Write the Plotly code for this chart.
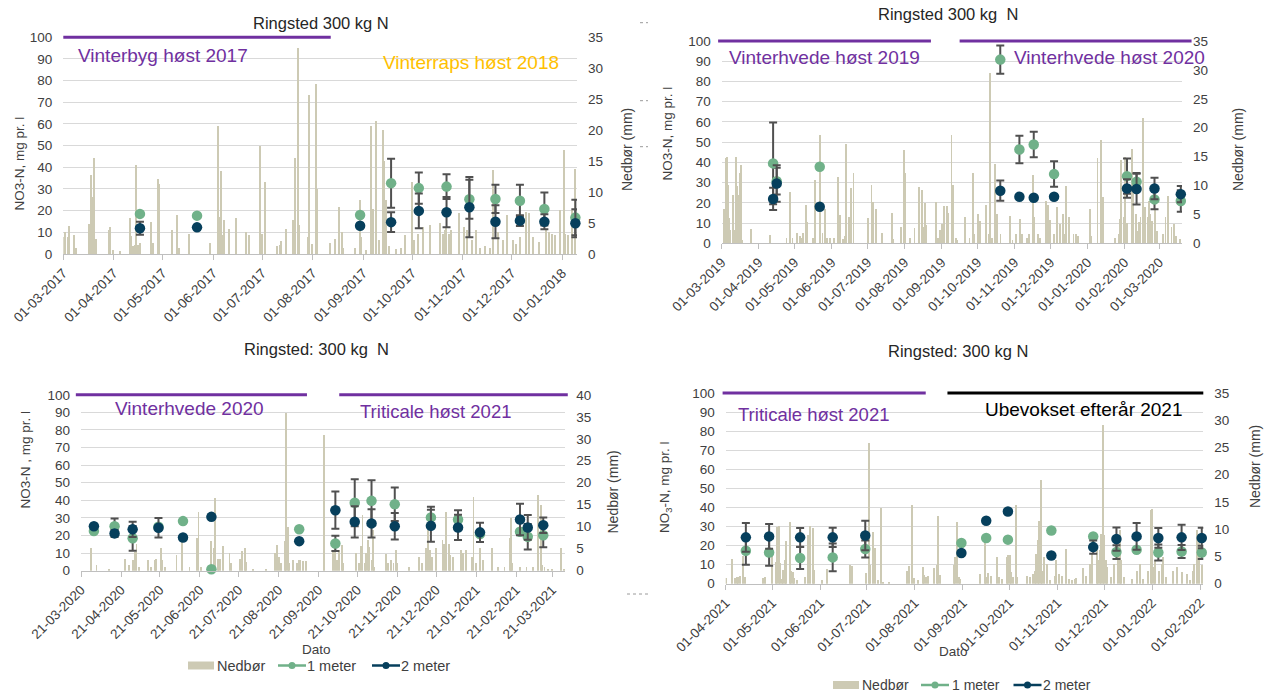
import pandas as pd
import plotly.graph_objects as go

W, H = 1268, 693

FONT = "Liberation Sans, Arial, sans-serif"
GREEN = "#70b189"
NAVY = "#063f5c"
RAIN = "#cdcab4"
PURPLE = "#7030a0"
GOLD = "#ffc000"
ERR = "#505050"
GRID = "#d9d9d9"
TICK = "#404040"

# ---------------- Panel 1: Ringsted 300 kg N, 2017/18 ----------------
p1_rain_dates = [
    "2017-03-01", "2017-03-02", "2017-03-04", "2017-03-05", "2017-03-08", "2017-03-09",
    "2017-03-17", "2017-03-18", "2017-03-19", "2017-03-20", "2017-03-21", "2017-03-29",
    "2017-03-30", "2017-04-01", "2017-04-05", "2017-04-11", "2017-04-12", "2017-04-13",
    "2017-04-14", "2017-04-15", "2017-04-16", "2017-04-17", "2017-04-24", "2017-04-25",
    "2017-04-28", "2017-04-29", "2017-05-07", "2017-05-10", "2017-05-11", "2017-05-17",
    "2017-05-30", "2017-06-04", "2017-06-05", "2017-06-06", "2017-06-07", "2017-06-08",
    "2017-06-11", "2017-06-15", "2017-06-21", "2017-06-23", "2017-06-30", "2017-07-01",
    "2017-07-03", "2017-07-10", "2017-07-12", "2017-07-13", "2017-07-16", "2017-07-20",
    "2017-07-21", "2017-07-23", "2017-07-24", "2017-07-29", "2017-07-30", "2017-08-01",
    "2017-08-03", "2017-08-04", "2017-08-12", "2017-08-15", "2017-08-17", "2017-08-19",
    "2017-08-20", "2017-08-27", "2017-08-30", "2017-08-31", "2017-09-03", "2017-09-06",
    "2017-09-07", "2017-09-09", "2017-09-11", "2017-09-13", "2017-09-14", "2017-09-15",
    "2017-09-17", "2017-09-21", "2017-09-24", "2017-09-27", "2017-10-01", "2017-10-02",
    "2017-10-05", "2017-10-08", "2017-10-12", "2017-10-18", "2017-10-20", "2017-10-21",
    "2017-10-22", "2017-10-24", "2017-10-25", "2017-10-30", "2017-11-02", "2017-11-04",
    "2017-11-07", "2017-11-09", "2017-11-12", "2017-11-15", "2017-11-18", "2017-11-20",
    "2017-11-23", "2017-11-26", "2017-11-28", "2017-12-02", "2017-12-04", "2017-12-06",
    "2017-12-10", "2017-12-12", "2017-12-14", "2017-12-18", "2017-12-22", "2017-12-24",
    "2017-12-26", "2017-12-28", "2017-12-31", "2018-01-02", "2018-01-03", "2018-01-05",
    "2018-01-07", "2018-01-09",
]
p1_rain_mm = [
    2.7, 3.5, 2.7, 4.5, 3.0, 1.0,
    4.8, 12.7, 9.2, 15.5, 2.4, 3.8,
    4.3, 0.6, 0.5, 5.8, 2.9, 1.2,
    1.4, 14.4, 1.4, 1.7, 5.1, 1.8,
    12.0, 11.3, 3.9, 6.2, 0.9, 3.2,
    1.7, 20.6, 6.0, 13.3, 3.0, 5.5,
    4.0, 5.7, 3.5, 3.0, 17.4, 3.2,
    11.6, 1.2, 1.4, 2.0, 4.0, 5.5,
    15.5, 33.3, 4.7, 2.7, 25.6, 1.5,
    27.4, 10.4, 1.8, 2.4, 7.5, 3.5,
    1.0, 1.0, 8.6, 2.7, 0.6, 20.7,
    7.3, 21.4, 2.2, 19.9, 15.0, 8.6,
    1.3, 0.8, 1.0, 3.0, 11.6, 2.2,
    3.2, 4.3, 4.6, 5.0, 3.2, 3.8,
    4.3, 3.2, 3.8, 6.5, 4.3, 3.8,
    2.2, 3.8, 1.0, 1.3, 1.0, 13.5,
    3.5, 2.2, 6.2, 2.2, 1.6, 2.7,
    6.7, 6.5, 2.7, 1.9, 3.8, 3.5,
    3.2, 3.0, 7.0, 16.7, 3.2, 3.0,
    7.0, 13.7,
]
p1_dates = ["2017-04-17", "2017-05-22", "2017-08-30", "2017-09-18", "2017-10-05",
            "2017-10-22", "2017-11-05", "2017-11-21", "2017-12-06", "2017-12-21", "2018-01-09"]
p1_m1 = [18.5, 17.7, 18.0, 32.7, 30.4, 31.1, 25.3, 25.4, 24.6, 20.8, 16.8]
p1_m1_err = [None, None, None, 11.3, 7.2, 5.7, 9.0, 6.5, 7.3, 7.6, 8.2]
p1_m2 = [11.9, 12.3, 13.0, 14.7, 19.9, 19.3, 21.6, 14.9, 15.4, 14.9, 14.2]
p1_m2_err = [3.0, None, None, 4.6, 8.0, 7.0, 13.9, 7.6, 2.5, 3.5, 6.5]

# ---------------- Panel 2: Ringsted 300 kg N, 2019/20 ----------------
p2_rain_dates = [
    "2019-03-03", "2019-03-04", "2019-03-05", "2019-03-06", "2019-03-07", "2019-03-08",
    "2019-03-10", "2019-03-11", "2019-03-13", "2019-03-14", "2019-03-15", "2019-03-16",
    "2019-03-17", "2019-03-18", "2019-03-25", "2019-04-10", "2019-04-24", "2019-04-27",
    "2019-04-29", "2019-05-03", "2019-05-05", "2019-05-07", "2019-05-08", "2019-05-10",
    "2019-05-11", "2019-05-16", "2019-05-18", "2019-05-22", "2019-05-24", "2019-05-26",
    "2019-05-28", "2019-05-30", "2019-06-03", "2019-06-06", "2019-06-08", "2019-06-10",
    "2019-06-12", "2019-06-13", "2019-06-15", "2019-06-17", "2019-06-19", "2019-07-01",
    "2019-07-04", "2019-07-05", "2019-07-08", "2019-07-13", "2019-07-21", "2019-07-22",
    "2019-07-29", "2019-07-31", "2019-08-01", "2019-08-05", "2019-08-09", "2019-08-13",
    "2019-08-15", "2019-08-16", "2019-08-18", "2019-08-19", "2019-08-27", "2019-08-29",
    "2019-08-30", "2019-09-01", "2019-09-03", "2019-09-05", "2019-09-06", "2019-09-09",
    "2019-09-10", "2019-09-13", "2019-09-14", "2019-09-20", "2019-09-24", "2019-09-27",
    "2019-09-28", "2019-10-01", "2019-10-03", "2019-10-08", "2019-10-10", "2019-10-11",
    "2019-10-13", "2019-10-15", "2019-10-17", "2019-10-20", "2019-10-28", "2019-10-30",
    "2019-11-02", "2019-11-05", "2019-11-07", "2019-11-11", "2019-11-13", "2019-11-16",
    "2019-11-17", "2019-11-20", "2019-11-22", "2019-11-27", "2019-11-29", "2019-11-30",
    "2019-12-04", "2019-12-06", "2019-12-09", "2019-12-11", "2019-12-13", "2019-12-14",
    "2019-12-16", "2019-12-20", "2019-12-22", "2019-12-24", "2020-01-03", "2020-01-04",
    "2020-01-09", "2020-01-12", "2020-01-14", "2020-01-24", "2020-01-27", "2020-01-28",
    "2020-01-29", "2020-01-31", "2020-02-01", "2020-02-03", "2020-02-07", "2020-02-08",
    "2020-02-10", "2020-02-11", "2020-02-13", "2020-02-14", "2020-02-16", "2020-02-18",
    "2020-02-20", "2020-02-21", "2020-02-22", "2020-02-24", "2020-02-26", "2020-02-28",
    "2020-03-04", "2020-03-06", "2020-03-08", "2020-03-11", "2020-03-13", "2020-03-15",
    "2020-03-18",
]
p2_rain_mm = [
    6.0, 14.7, 14.9, 10.1, 4.3, 2.3,
    8.3, 2.3, 14.9, 9.9, 8.3, 12.1,
    13.5, 0.6, 2.4, 1.4, 1.0, 8.8,
    1.0, 1.7, 1.2, 1.0, 1.7, 6.6,
    3.7, 0.9, 10.9, 18.7, 1.7, 6.0,
    0.9, 1.0, 1.0, 11.5, 4.9, 0.7,
    1.2, 17.2, 4.6, 9.5, 12.1, 4.3,
    10.1, 7.2, 6.0, 1.7, 5.2, 0.7,
    2.9, 16.1, 12.1, 1.0, 2.6, 9.7,
    9.2, 2.9, 7.0, 3.2, 7.2, 1.0,
    2.3, 3.3, 6.4, 6.4, 5.2, 18.7,
    10.1, 1.0, 0.5, 4.5, 0.9, 12.2,
    1.6, 5.1, 3.9, 6.6, 1.6, 29.5,
    1.0, 13.8, 5.1, 1.6, 4.8, 0.5,
    1.6, 4.2, 1.6, 1.0, 1.6, 11.8,
    4.5, 1.6, 1.0, 7.4, 6.7, 4.0,
    1.6, 6.3, 3.4, 5.1, 1.6, 10.0,
    4.5, 1.6, 1.6, 1.3, 6.0, 1.3,
    14.7, 17.9, 8.0, 1.0, 1.6, 4.2,
    14.4, 4.5, 15.0, 3.5, 16.4, 9.8,
    5.1, 2.2, 3.7, 4.5, 21.6, 6.3,
    4.5, 7.4, 5.1, 3.9, 5.7, 2.2,
    1.6, 4.5, 8.1, 2.8, 3.4, 1.3,
    0.8,
]
p2_dates = ["2019-04-13", "2019-04-16", "2019-05-22", "2019-10-20", "2019-11-05", "2019-11-17",
            "2019-12-04", "2020-02-03", "2020-02-11", "2020-02-26", "2020-03-19"]
p2_m1 = [39.5, 30.7, 37.8, 90.8, 46.4, 48.8, 34.2, 33.2, 30.4, 21.7, 20.9]
p2_m1_err = [20.2, 6.6, None, 7.0, 6.8, 6.3, 6.3, 8.7, 4.4, 4.9, 5.3]
p2_m2 = [21.9, 29.6, 18.1, 26.0, 23.0, 22.5, 23.0, 27.1, 26.8, 27.1, 24.3]
p2_m2_err = [5.5, 9.0, None, 5.0, None, None, None, 4.6, 7.6, 5.3, 4.0]

# ---------------- Panel 3: Ringsted: 300 kg N, 2020/21 ----------------
p3_rain_dates = [
    "2020-03-29", "2020-04-02", "2020-04-12", "2020-04-24", "2020-04-27", "2020-04-30",
    "2020-05-02", "2020-05-03", "2020-05-05", "2020-05-12", "2020-05-14", "2020-05-17",
    "2020-05-18", "2020-05-22", "2020-05-23", "2020-05-25", "2020-06-03", "2020-06-07",
    "2020-06-13", "2020-06-19", "2020-06-20", "2020-06-22", "2020-06-30", "2020-07-02",
    "2020-07-03", "2020-07-05", "2020-07-06", "2020-07-07", "2020-07-09", "2020-07-14",
    "2020-07-15", "2020-07-22", "2020-07-24", "2020-07-26", "2020-07-27", "2020-08-01",
    "2020-08-11", "2020-08-18", "2020-08-20", "2020-08-21", "2020-08-23", "2020-08-26",
    "2020-08-27", "2020-08-28", "2020-08-29", "2020-09-01", "2020-09-04", "2020-09-06",
    "2020-09-07", "2020-09-09", "2020-09-11", "2020-09-25", "2020-10-02", "2020-10-04",
    "2020-10-05", "2020-10-07", "2020-10-09", "2020-10-10", "2020-10-20", "2020-10-22",
    "2020-10-24", "2020-10-25", "2020-10-27", "2020-10-28", "2020-10-29", "2020-10-30",
    "2020-11-01", "2020-11-02", "2020-11-03", "2020-11-12", "2020-11-14", "2020-11-16",
    "2020-11-18", "2020-11-20", "2020-11-21", "2020-11-30", "2020-12-08", "2020-12-10",
    "2020-12-13", "2020-12-15", "2020-12-16", "2020-12-18", "2020-12-21", "2020-12-26",
    "2020-12-27", "2020-12-29", "2020-12-31", "2021-01-01", "2021-01-03", "2021-01-09",
    "2021-01-11", "2021-01-13", "2021-01-18", "2021-01-19", "2021-01-21", "2021-01-24",
    "2021-01-26", "2021-02-02", "2021-02-07", "2021-02-12", "2021-02-16", "2021-02-17",
    "2021-02-18", "2021-02-24", "2021-03-01", "2021-03-06", "2021-03-10", "2021-03-12",
    "2021-03-13", "2021-03-15", "2021-03-18", "2021-03-21", "2021-03-28", "2021-03-30",
]
p3_rain_mm = [
    5.1, 1.3, 0.5, 2.8, 1.3, 2.4,
    4.3, 6.2, 0.9, 2.4, 0.9, 2.4,
    2.6, 5.1, 2.4, 0.8, 3.6, 7.4,
    0.8, 7.4, 13.5, 0.9, 6.9, 5.1,
    16.5, 2.8, 2.6, 2.6, 5.6, 4.1,
    1.7, 2.8, 4.6, 5.1, 2.1, 0.3,
    0.3, 4.0, 5.9, 3.2, 1.7, 6.9,
    36.0, 9.9, 1.7, 2.4, 1.7, 2.4,
    2.4, 2.3, 2.2, 30.8, 4.7, 6.2,
    2.4, 4.7, 5.9, 1.7, 4.0, 1.7,
    5.6, 12.7, 1.7, 4.0, 7.0, 5.5,
    2.4, 9.3, 0.9, 3.8, 1.7, 2.4,
    1.7, 4.7, 1.7, 0.9, 3.2, 1.7,
    5.1, 9.3, 4.7, 3.2, 5.1, 7.0,
    6.2, 13.5, 6.2, 3.6, 3.2, 4.7,
    4.0, 4.7, 3.2, 16.9, 1.7, 5.1,
    2.4, 5.1, 0.8, 0.8, 7.4, 12.0,
    1.7, 0.8, 0.9, 0.8, 17.3, 15.0,
    1.3, 0.9, 0.5, 0.3, 5.1, 0.5,
]
p3_dates = ["2020-03-31", "2020-04-16", "2020-04-30", "2020-05-20", "2020-06-08", "2020-06-30",
            "2020-09-06", "2020-10-04", "2020-10-19", "2020-11-01", "2020-11-19", "2020-12-17",
            "2021-01-07", "2021-01-24", "2021-02-24", "2021-03-02", "2021-03-14"]
p3_m1 = [22.5, 25.3, 18.4, 25.0, 28.2, 0.8, 23.6, 15.5, 38.6, 39.7, 37.8, 30.3, 29.1, 20.8, 22.1, 19.3, 20.2]
p3_m1_err = [None, 4.4, 7.0, None, None, None, None, 4.3, 13.4, 11.7, 9.5, 6.0, 5.3, None, None, 7.2, 6.9]
p3_m2 = [25.3, 21.2, 23.5, 24.4, 18.9, 30.6, 16.8, 34.4, 27.8, 26.9, 25.3, 25.5, 24.6, 21.8, 29.1, 24.6, 25.9]
p3_m2_err = [None, 2.0, 4.3, 5.5, None, None, None, 10.6, 8.9, 8.0, 7.5, 9.1, 7.2, 5.5, 9.0, 7.0, 4.4]

# ---------------- Panel 4: Ringsted: 300 kg N, 2021/22 ----------------
p4_rain_dates = [
    "2021-04-01", "2021-04-05", "2021-04-07", "2021-04-08", "2021-04-09", "2021-04-10",
    "2021-04-12", "2021-04-13", "2021-04-25", "2021-04-26", "2021-05-01", "2021-05-03",
    "2021-05-04", "2021-05-05", "2021-05-06", "2021-05-07", "2021-05-08", "2021-05-09",
    "2021-05-10", "2021-05-12", "2021-05-13", "2021-05-14", "2021-05-15", "2021-05-17",
    "2021-05-22", "2021-05-24", "2021-05-25", "2021-05-27", "2021-05-28", "2021-06-02",
    "2021-06-05", "2021-06-20", "2021-06-21", "2021-06-30", "2021-07-02", "2021-07-03",
    "2021-07-05", "2021-07-06", "2021-07-08", "2021-07-10", "2021-07-11", "2021-07-15",
    "2021-07-27", "2021-07-28", "2021-07-30", "2021-07-31", "2021-08-03", "2021-08-06",
    "2021-08-07", "2021-08-08", "2021-08-09", "2021-08-13", "2021-08-15", "2021-08-16",
    "2021-08-17", "2021-08-26", "2021-08-27", "2021-08-28", "2021-08-29", "2021-08-30",
    "2021-09-12", "2021-09-15", "2021-09-16", "2021-09-17", "2021-09-19", "2021-09-23",
    "2021-09-24", "2021-09-26", "2021-09-29", "2021-09-30", "2021-10-01", "2021-10-02",
    "2021-10-03", "2021-10-05", "2021-10-06", "2021-10-12", "2021-10-14", "2021-10-16",
    "2021-10-17", "2021-10-18", "2021-10-19", "2021-10-20", "2021-10-21", "2021-10-22",
    "2021-10-23", "2021-10-25", "2021-10-27", "2021-10-30", "2021-10-31", "2021-11-02",
    "2021-11-04", "2021-11-06", "2021-11-08", "2021-11-10", "2021-11-12", "2021-11-13",
    "2021-11-17", "2021-11-19", "2021-11-22", "2021-11-23", "2021-11-26", "2021-11-27",
    "2021-11-28", "2021-11-29", "2021-11-30", "2021-12-01", "2021-12-02", "2021-12-03",
    "2021-12-05", "2021-12-07", "2021-12-10", "2021-12-11", "2021-12-12", "2021-12-14",
    "2021-12-19", "2021-12-22", "2021-12-24", "2021-12-26", "2021-12-29", "2021-12-31",
    "2022-01-01", "2022-01-02", "2022-01-03", "2022-01-05", "2022-01-07", "2022-01-08",
    "2022-01-10", "2022-01-14", "2022-01-17", "2022-01-20", "2022-01-23", "2022-01-25",
    "2022-01-27", "2022-01-28", "2022-01-30", "2022-01-31", "2022-02-02",
]
p4_rain_mm = [
    1.0, 4.5, 1.0, 1.2, 1.3, 1.5,
    5.0, 1.3, 1.0, 1.2, 5.9, 3.9,
    10.4, 10.5, 3.8, 0.9, 2.6, 4.4,
    7.8, 11.3, 2.4, 2.2, 1.0, 0.7,
    1.3, 9.0, 10.5, 10.2, 2.5, 0.7,
    2.7, 3.5, 3.3, 1.9, 25.9, 3.5,
    9.4, 6.5, 0.6, 13.9, 0.4, 0.2,
    2.3, 3.3, 14.5, 1.0, 0.7, 3.1,
    1.6, 1.3, 1.5, 2.9, 3.4, 12.5,
    1.6, 3.4, 4.9, 11.3, 1.2, 0.9,
    1.8, 8.6, 1.2, 2.0, 1.5, 4.9,
    1.2, 0.9, 4.9, 5.2, 5.2, 2.1,
    1.2, 14.4, 1.2, 1.5, 1.2, 1.8,
    2.4, 5.5, 8.0, 11.6, 19.0, 2.4,
    4.9, 3.7, 0.7, 1.5, 4.3, 1.8,
    1.5, 6.4, 0.9, 0.7, 0.9, 1.1,
    2.8, 1.5, 3.7, 5.6, 6.4, 4.3,
    6.1, 9.2, 29.1, 8.9, 4.3, 3.1,
    1.2, 3.7, 7.0, 9.8, 4.3, 1.2,
    0.9, 2.4, 3.7, 0.9, 2.4, 13.5,
    13.8, 3.1, 4.3, 2.4, 3.7, 4.9,
    1.2, 2.4, 3.1, 2.1, 1.8, 0.6,
    2.4, 3.7, 9.8, 9.2, 3.4,
]
p4_dates = ["2021-04-14", "2021-04-29", "2021-05-19", "2021-06-09", "2021-06-30", "2021-08-31",
            "2021-09-16", "2021-09-30", "2021-10-28", "2021-11-24", "2021-12-09", "2021-12-22",
            "2022-01-05", "2022-01-20", "2022-02-02"]
p4_m1 = [17.3, 16.4, 13.5, 13.8, 18.2, 21.3, 24.0, 23.1, 27.9, 24.8, 16.6, 17.8, 16.4, 16.9, 16.4]
p4_m1_err = [7.3, 7.0, 5.8, 7.3, 4.4, None, None, None, None, None, 3.6, None, 4.2, 3.4, 3.5]
p4_m2 = [24.3, 24.8, 24.3, 24.3, 25.3, 16.1, 33.0, 37.9, 14.8, 19.2, 23.4, 24.8, 24.0, 24.3, 24.0]
p4_m2_err = [7.5, 6.5, 4.9, 5.1, 7.7, None, None, None, None, 3.5, 6.1, 7.0, 5.2, 6.6, 5.4]

# crop periods shown as bars along the top of each panel: (start, end, colour)
p1_periods = [("2017-03-01", "2017-08-12", PURPLE)]
p2_periods = [("2019-02-26", "2019-08-23", PURPLE), ("2019-09-16", "2020-03-28", PURPLE)]
p3_periods = [("2020-03-17", "2020-09-12", PURPLE), ("2020-10-07", "2021-04-02", PURPLE)]
p4_periods = [("2021-03-30", "2021-08-08", PURPLE), ("2021-08-22", "2022-02-03", "#000000")]

legend_labels = ["Nedbør", "1 meter", "2 meter"]


def fx(v):
    return v / W


def fy(v):
    return 1 - v / H


panels = [
    dict(rain_d=p1_rain_dates, rain=p1_rain_mm, d=p1_dates, m1=p1_m1, e1=p1_m1_err, m2=p1_m2, e2=p1_m2_err,
         xr=["2017-03-01", "2018-01-10"], tick0="2017-03-01", xdom=[63.3, 577], ydom=[254, 37.3],
         rmax=35, periods=p1_periods),
    dict(rain_d=p2_rain_dates, rain=p2_rain_mm, d=p2_dates, m1=p2_m1, e1=p2_m1_err, m2=p2_m2, e2=p2_m2_err,
         xr=["2019-03-01", "2020-03-20"], tick0="2019-03-01", xdom=[721.7, 1182], ydom=[243.3, 41],
         rmax=35, periods=p2_periods),
    dict(rain_d=p3_rain_dates, rain=p3_rain_mm, d=p3_dates, m1=p3_m1, e1=p3_m1_err, m2=p3_m2, e2=p3_m2_err,
         xr=["2020-03-21", "2021-03-31"], tick0="2020-03-21", xdom=[81, 565.2], ydom=[570.7, 394.8],
         rmax=40, periods=p3_periods),
    dict(rain_d=p4_rain_dates, rain=p4_rain_mm, d=p4_dates, m1=p4_m1, e1=p4_m1_err, m2=p4_m2, e2=p4_m2_err,
         xr=["2021-04-01", "2022-02-03"], tick0="2021-04-01", xdom=[725.7, 1203.3], ydom=[583.7, 393],
         rmax=35, periods=p4_periods),
]

fig = go.Figure()
layout = {}
shapes = []
annotations = []
DAY_MS = 86400000


def text(x, y, s, size, color, xanchor="center", angle=0):
    annotations.append(dict(x=fx(x), y=fy(y), xref="paper", yref="paper", text=s, showarrow=False,
                            xanchor=xanchor, yanchor="middle", textangle=angle,
                            font=dict(family=FONT, size=size, color=color)))


for i, p in enumerate(panels):
    k = i + 1
    xid = "x" if k == 1 else f"x{k}"
    yb_n = 2 * k - 1          # precipitation axis (base, right side)
    yo_n = 2 * k              # NO3-N axis (overlay, left side)
    yb = "y" if yb_n == 1 else f"y{yb_n}"
    yo = f"y{yo_n}"

    fig.add_trace(go.Bar(x=p["rain_d"], y=p["rain"], xaxis=xid, yaxis=yb,
                         marker=dict(color=RAIN, line=dict(width=0)),
                         width=DAY_MS * 0.7, showlegend=False, hoverinfo="skip"))
    for vals, errs, col in ((p["m1"], p["e1"], GREEN), (p["m2"], p["e2"], NAVY)):
        fig.add_trace(go.Scatter(
            x=p["d"], y=vals, xaxis=xid, yaxis=yo, mode="markers", cliponaxis=False,
            marker=dict(size=10.5, color=col),
            error_y=dict(type="data", array=errs, visible=True, color=ERR, thickness=2, width=4),
            showlegend=False))

    tickfont = dict(family=FONT, size=13.5, color=TICK)
    layout["xaxis" if k == 1 else f"xaxis{k}"] = dict(
        type="date", range=p["xr"], tick0=p["tick0"], dtick="M1", tickformat="%d-%m-%Y",
        tickangle=-45, ticks="outside", ticklen=5, tickcolor="#bfbfbf", showline=True,
        linecolor="#bfbfbf", linewidth=1, showgrid=False, zeroline=False, tickfont=tickfont,
        domain=[fx(p["xdom"][0]), fx(p["xdom"][1])], anchor=yb, automargin=False)
    layout["yaxis" if yb_n == 1 else f"yaxis{yb_n}"] = dict(
        domain=[fy(p["ydom"][0]), fy(p["ydom"][1])], range=[0, p["rmax"]], dtick=5,
        side="right", anchor=xid, showgrid=False, zeroline=False, showline=False,
        tickfont=tickfont, ticklabelstandoff=10, automargin=False)
    layout[f"yaxis{yo_n}"] = dict(
        range=[0, 100], dtick=10, side="left", overlaying=yb, anchor=xid,
        showgrid=True, gridcolor=GRID, gridwidth=1, zeroline=False, showline=False,
        tickfont=tickfont, ticklabelstandoff=10, automargin=False)

    t0 = pd.Timestamp(p["xr"][0])
    span = pd.Timestamp(p["xr"][1]) - t0
    for start, end, col in p["periods"]:
        shapes.append(dict(
            type="line", xref=f"{xid} domain", yref=f"{yb} domain",
            x0=(pd.Timestamp(start) - t0) / span, x1=(pd.Timestamp(end) - t0) / span,
            y0=1, y1=1, line=dict(color=col, width=3)))


def legend_row(y, x_box, x_l1, x_l2, text_x, size):
    # key: precipitation swatch, then 1 m and 2 m line-with-dot symbols
    shapes.append(dict(type="rect", xref="paper", yref="paper", x0=fx(x_box), x1=fx(x_box + 26),
                       y0=fy(y + 4), y1=fy(y - 4), fillcolor=RAIN, line=dict(width=0)))
    for x0, col in ((x_l1, GREEN), (x_l2, NAVY)):
        shapes.append(dict(type="line", xref="paper", yref="paper", x0=fx(x0), x1=fx(x0 + 28),
                           y0=fy(y), y1=fy(y), line=dict(color=col, width=2.5)))
        shapes.append(dict(type="circle", xref="paper", yref="paper", x0=fx(x0 + 10.5), x1=fx(x0 + 17.5),
                           y0=fy(y + 3.5), y1=fy(y - 3.5), fillcolor=col, line=dict(width=0)))
    for tx, lab in zip(text_x, legend_labels):
        text(tx, y, lab, size, TICK, "left")


legend_row(665.5, 188, 278, 372, [214.5, 304.5, 398.5], 14.5)
legend_row(685, 833, 921, 1013.5, [859.5, 949.5, 1040.5], 14)

# small dotted leftovers of the page layout
for x0, x1, y in ((640, 648, 22.7), (640, 648, 100.7), (640, 648, 146.7), (627, 650, 594)):
    shapes.append(dict(type="line", xref="paper", yref="paper", x0=fx(x0), x1=fx(x1), y0=fy(y), y1=fy(y),
                       line=dict(color="#9a9a9a", width=1, dash="dot")))

# panel titles
text(321, 23, "Ringsted 300 kg N", 16.5, "#262626")
text(948, 14, "Ringsted 300 kg  N", 16.5, "#262626")
text(316, 349, "Ringsted: 300 kg  N", 16.5, "#262626")
text(958, 351, "Ringsted: 300 kg N", 16.5, "#262626")

# crop labels
text(76, 56, "Vinterbyg høst 2017", 19, PURPLE, "left")
text(381, 62.5, "Vinterraps høst 2018", 19, GOLD, "left")
text(727, 57.5, "Vinterhvede høst 2019", 19, PURPLE, "left")
text(1011.5, 57.5, "Vinterhvede høst 2020", 19, PURPLE, "left")
text(113, 408.5, "Vinterhvede 2020", 19, PURPLE, "left")
text(358, 411, "Triticale høst 2021", 18.5, PURPLE, "left")
text(736, 414, "Triticale høst 2021", 18.5, PURPLE, "left")
text(983, 409.5, "Ubevokset efterår 2021", 19, "#000000", "left")

# axis titles
text(18.5, 164, "NO3-N, mg pr. l", 13.5, TICK, angle=-90)
text(627, 150, "Nedbør (mm)", 14, TICK, angle=-90)
text(666.5, 133, "NO3-N, mg pr. l", 13.5, TICK, angle=-90)
text(1238, 150, "Nedbør (mm)", 14, TICK, angle=-90)
text(25, 459.5, "NO3-N , mg pr. l", 13.5, TICK, angle=-90)
text(612, 492.5, "Nedbør (mm)", 14, TICK, angle=-90)
text(665, 487, "NO<sub>3</sub>-N, mg pr. l", 13.5, TICK, angle=-90)
text(1255, 467, "Nedbør (mm)", 14, TICK, angle=-90)
text(316, 649, "Dato", 13.5, TICK)
text(953.5, 651.5, "Dato", 13.5, TICK)

layout.update(dict(
    template="none",
    width=W, height=H, margin=dict(l=0, r=0, t=0, b=0, pad=0),
    paper_bgcolor="white", plot_bgcolor="white",
    font=dict(family=FONT, size=13, color=TICK),
    shapes=shapes, annotations=annotations, bargap=0, hovermode=False, showlegend=False,
))
fig.update_layout(**layout)
fig.write_html("out.html")
